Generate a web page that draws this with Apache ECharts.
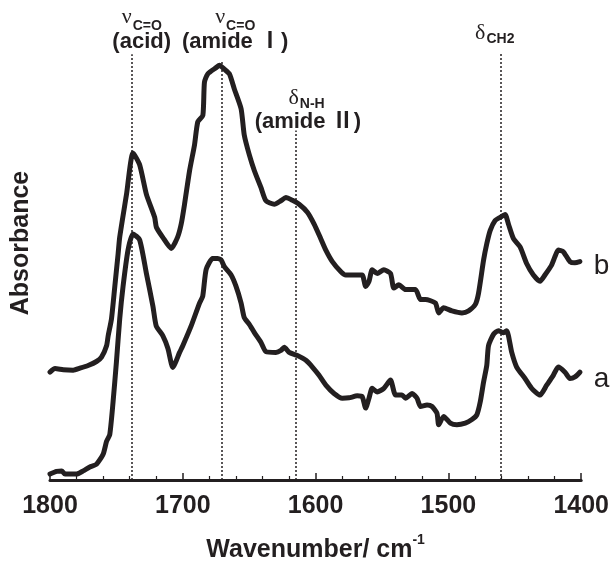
<!DOCTYPE html>
<html>
<head>
<meta charset="utf-8">
<script src="https://cdn.jsdelivr.net/npm/echarts@6/dist/echarts.min.js"></script>
<style>
  html, body { margin: 0; padding: 0; background: #fff; }
  #chart { width: 612px; height: 568px; }
</style>
</head>
<body>
<div id="chart"></div>
<script>
// spectrum a (lower trace)
var waveA = [1800, 1795.0, 1791.2, 1788.7, 1780.0, 1775.0, 1770.0, 1765.0, 1760.0, 1757.4, 1755.0, 1752.5,
  1750.0, 1747.5, 1745.0, 1741.2, 1737.5, 1732.5, 1727.4, 1722.5, 1720.0, 1715.0, 1711.2, 1707.5,
  1702.4, 1700.0, 1693.7, 1687.4, 1685.0, 1682.4, 1677.5, 1673.9, 1671.1, 1668.7, 1663.6, 1659.9,
  1656.1, 1653.7, 1649.9, 1646.1, 1641.1, 1637.4, 1629.9, 1626.1, 1623.6, 1619.9, 1613.7, 1607.3,
  1602.4, 1597.4, 1592.3, 1586.1, 1579.9, 1574.9, 1568.6, 1564.9, 1562.3, 1559.8, 1557.4, 1553.6,
  1548.6, 1543.6, 1539.8, 1534.9, 1532.3, 1527.3, 1523.6, 1521.0, 1516.1, 1512.3, 1508.6, 1507.3,
  1503.6, 1498.5, 1493.6, 1487.3, 1482.3, 1478.6, 1476.0, 1473.5, 1471.1, 1469.8, 1466.0, 1462.3,
  1458.5, 1456.1, 1452.3, 1448.6, 1442.3, 1437.3, 1431.0, 1426.0, 1421.0, 1417.3, 1412.2, 1408.5,
  1404.7, 1401.0];
var absA = [1.5, 2.2, 2.3, 1.5, 1.5, 2.3, 3.3, 4.0, 6.5, 9.8, 11.5, 19.8,
  29.8, 40.8, 49.0, 58.3, 62.3, 60.8, 52.3, 44.0, 39.0, 36.5, 33.3, 28.5,
  32.3, 34.0, 39.0, 44.8, 46.5, 53.3, 56.1, 56.1, 55.7, 54.0, 51.9, 49.0,
  44.8, 41.1, 39.4, 37.3, 34.8, 32.5, 32.3, 32.8, 33.6, 32.3, 31.5, 30.3,
  28.6, 26.5, 24.0, 21.9, 20.7, 20.8, 21.3, 21.1, 18.2, 20.7, 23.2, 22.3,
  23.2, 25.3, 21.5, 21.5, 20.7, 21.9, 20.7, 18.6, 19.0, 18.6, 16.9, 14.0,
  16.1, 14.4, 14.0, 14.4, 15.3, 16.5, 19.8, 24.8, 29.0, 34.0, 36.9, 37.8,
  37.3, 37.8, 32.3, 28.6, 25.7, 23.2, 21.5, 24.0, 26.5, 28.6, 27.3, 25.7,
  26.1, 27.3];

// spectrum b (upper trace)
var waveB = [1800, 1796.2, 1790.0, 1782.5, 1777.5, 1771.3, 1765.0, 1761.2, 1757.4, 1756.2, 1753.7, 1751.2,
  1748.7, 1747.5, 1742.4, 1737.5, 1732.5, 1727.4, 1721.2, 1719.9, 1715.2, 1708.7, 1703.9, 1701.2,
  1698.7, 1694.9, 1691.2, 1688.7, 1684.9, 1683.7, 1681.2, 1674.9, 1672.4, 1668.7, 1664.9, 1661.2,
  1656.1, 1653.7, 1649.9, 1646.1, 1641.1, 1637.4, 1631.1, 1626.1, 1622.4, 1617.4, 1612.4, 1606.2,
  1601.1, 1596.1, 1592.3, 1587.4, 1581.1, 1577.3, 1569.8, 1564.9, 1562.3, 1559.8, 1557.4, 1553.6,
  1548.6, 1543.6, 1541.1, 1537.3, 1532.3, 1524.8, 1521.0, 1517.3, 1509.8, 1507.3, 1503.6, 1497.3,
  1489.8, 1484.8, 1479.8, 1477.3, 1473.5, 1471.1, 1468.5, 1464.8, 1461.0, 1457.3, 1454.8, 1451.0,
  1446.0, 1441.1, 1436.0, 1431.0, 1427.3, 1422.3, 1419.8, 1417.3, 1413.5, 1408.5, 1404.7, 1401.0];
var absB = [27.3, 28.2, 27.9, 27.8, 28.3, 29.0, 30.0, 31.1, 34.0, 36.5, 40.8, 49.0,
  57.3, 61.5, 72.3, 82.8, 79.8, 72.3, 66.5, 64.0, 61.5, 58.6, 61.5, 64.8,
  69.8, 78.3, 84.8, 90.7, 92.3, 100.7, 102.8, 104.4, 105.0, 104.0, 102.8, 99.0,
  94.0, 87.3, 82.3, 78.3, 74.0, 70.7, 69.8, 70.7, 71.5, 70.8, 69.8, 67.8,
  64.8, 61.1, 58.2, 55.3, 52.8, 51.9, 51.9, 51.9, 49.0, 50.3, 53.2, 52.3,
  53.2, 52.3, 48.6, 49.4, 48.2, 48.2, 45.7, 45.7, 44.8, 42.3, 43.6, 42.8,
  42.3, 42.8, 44.4, 47.3, 55.7, 59.8, 63.2, 65.7, 66.5, 67.2, 64.8, 61.1,
  59.0, 54.8, 51.9, 50.3, 51.9, 54.4, 56.5, 58.2, 57.8, 55.3, 55.0, 55.3];

// band assignments (dotted guide lines)
var bandWave = [1738.5, 1670.4, 1614.9, 1460.8];
var bandTop = [107.8, 105.8, 88.5, 108.3];
var bandSymbol = ['ν', 'ν', 'δ', 'δ'];
var bandSub = ['C=O', 'C=O', 'N-H', 'CH2'];
var bandNote = ['(acid)', '(amide Ⅰ)', '(amide Ⅱ)', ''];

var ink = '#231f20';
var sans = '"Liberation Sans", Arial, "Noto Sans CJK JP", sans-serif';
var serif = '"Liberation Serif", "DejaVu Serif", serif';

function pairs(xs, ys) {
  return xs.map(function (x, i) { return [x, ys[i]]; });
}

var chart = echarts.init(document.getElementById('chart'));

var option = {
  animation: false,
  grid: { left: 50, right: 29, top: 6, bottom: 82 },
  xAxis: {
    type: 'value',
    inverse: true,
    min: 1400,
    max: 1800,
    interval: 100,
    name: '{n|Wavenumber/ cm}{s|-1}',
    nameLocation: 'middle',
    nameGap: 53,
    nameTextStyle: {
      rich: {
        n: { fontFamily: sans, fontWeight: 'bold', fontSize: 25, color: ink, verticalAlign: 'bottom', lineHeight: 30 },
        s: { fontFamily: sans, fontWeight: 'bold', fontSize: 14, color: ink, verticalAlign: 'top', lineHeight: 30 }
      }
    },
    axisLine: { lineStyle: { color: ink, width: 3 } },
    axisTick: { inside: true, length: 7, lineStyle: { color: ink, width: 1.5 } },
    minorTick: { show: true, splitNumber: 5, length: 4, lineStyle: { color: ink, width: 1.2 } },
    axisLabel: {
      margin: 14, fontFamily: sans, fontWeight: 'bold', fontSize: 25, color: ink,
      formatter: function (v) { return String(v); }
    },
    splitLine: { show: false }
  },
  yAxis: {
    type: 'value',
    min: 0,
    max: 120,
    name: 'Absorbance',
    nameLocation: 'middle',
    nameGap: 16,
    nameTextStyle: { fontFamily: sans, fontWeight: 'bold', fontSize: 25, color: ink },
    axisLine: { show: false },
    axisTick: { show: false },
    axisLabel: { show: false },
    splitLine: { show: false }
  },
  series: [
    {
      name: 'a',
      type: 'line',
      data: pairs(waveA, absA),
      showSymbol: false,
      smooth: 0.2,
      lineStyle: { color: ink, width: 5, join: 'round', cap: 'round' }
    },
    {
      name: 'b',
      type: 'line',
      data: pairs(waveB, absB),
      showSymbol: false,
      smooth: 0.2,
      lineStyle: { color: ink, width: 5, join: 'round', cap: 'round' },
      markLine: {
        silent: true,
        symbol: 'none',
        label: { show: false },
        lineStyle: { color: ink, width: 1.5, type: [2, 2] },
        data: bandWave.map(function (w, i) {
          return [{ coord: [w, 0] }, { coord: [w, bandTop[i]] }];
        })
      }
    }
  ]
};
chart.setOption(option);

// label offsets relative to top of each guide line: [split dx, symbol dy, sub dy, note dx, note dy]
var labelPos = [
  [0, -37, -28, 10, -12],
  [3, -45, -36, 13, -20],
  [3, -32, -26, 12, -8],
  [-15, -19, -13, 0, 0]
];

var graphics = [];
bandWave.forEach(function (w, i) {
  var p = chart.convertToPixel({ xAxisIndex: 0, yAxisIndex: 0 }, [w, bandTop[i]]);
  var o = labelPos[i];
  graphics.push({
    type: 'text', x: p[0] + o[0], y: p[1] + o[1],
    style: { text: bandSymbol[i], font: '22px ' + serif, fill: ink, textAlign: 'right', textVerticalAlign: 'middle' }
  });
  graphics.push({
    type: 'text', x: p[0] + o[0] + 1, y: p[1] + o[2],
    style: { text: bandSub[i], font: 'bold 14px ' + sans, fill: ink, textAlign: 'left', textVerticalAlign: 'middle' }
  });
  if (bandNote[i]) {
    graphics.push({
      type: 'text', x: p[0] + o[3], y: p[1] + o[4],
      style: { text: bandNote[i], font: 'bold 22px ' + sans, fill: ink, textAlign: 'center', textVerticalAlign: 'middle' }
    });
  }
});

// trace names next to the right end of each spectrum
[[waveA, absA, 'a', 7], [waveB, absB, 'b', 5]].forEach(function (s) {
  var n = s[0].length - 1;
  var p = chart.convertToPixel({ xAxisIndex: 0, yAxisIndex: 0 }, [s[0][n], s[1][n]]);
  graphics.push({
    type: 'text', x: p[0] + 14, y: p[1] + s[3],
    style: { text: s[2], font: '28px ' + sans, fill: ink, textAlign: 'left', textVerticalAlign: 'middle' }
  });
});
chart.setOption({ graphic: graphics });

window.addEventListener('resize', function () {
  chart.resize();
});
</script>
</body>
</html>
